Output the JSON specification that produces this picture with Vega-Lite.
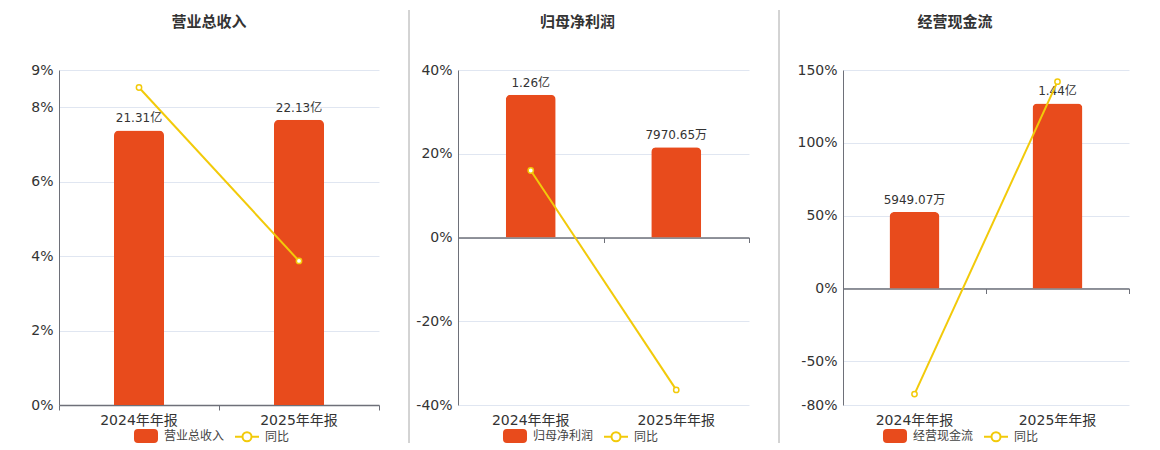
{
  "$schema": "https://vega.github.io/schema/vega-lite/v6.json",
  "padding": {"left": 30, "top": 9, "right": 0, "bottom": 0},
  "background": "white",
  "spacing": 0,
  "bounds": "flush",
  "config": {
    "view": {"stroke": null},
    "font": "DejaVu Sans, Noto Sans CJK SC",
    "title": {"font": "Noto Sans CJK SC", "fontSize": 15, "fontWeight": "bold", "color": "#333333", "offset": 33},
    "legend": {"labelFont": "Noto Sans CJK SC", "labelFontSize": 12, "labelColor": "#444444"}
  },
  "resolve": {"scale": {"color": "independent"}, "legend": {"color": "independent"}},
  "hconcat": [
    {
      "width": 320, "height": 335,
      "title": {"text": "营业总收入", "dx": -10},
      "data": {"values": [
        {"period": "2024年年报", "value": 21.31, "label": "21.31亿", "yoy": 8.53},
        {"period": "2025年年报", "value": 22.13, "label": "22.13亿", "yoy": 3.87}
      ]},
      "layer": [
        {
          "layer": [
            {
              "mark": {"type": "bar", "size": 50, "cornerRadiusTopLeft": 5, "cornerRadiusTopRight": 5},
              "encoding": {
                "x": {"field": "period", "type": "nominal", "sort": null, "scale": {"paddingInner": 0, "paddingOuter": 0},
                  "axis": {"title": null, "labelAngle": 0, "domain": false, "ticks": false, "grid": false, "labelPadding": 8, "labelFontSize": 14, "labelColor": "#333333"}},
                "y": {"field": "value", "type": "quantitative", "scale": {"domain": [0, 26], "nice": false, "zero": false}, "axis": null},
                "color": {"datum": "营业总收入", "scale": {"domain": ["营业总收入", "同比"], "range": ["#E84B1C", "#F2CA0A"]},
                  "legend": {"orient": "none", "legendX": 74, "legendY": 353, "direction": "horizontal", "title": null, "labelOffset": 5, "columnPadding": 6,
                    "encode": {"symbols": {"update": {
                      "shape": {"signal": "datum.value === '同比' ? 'M-1,0H-0.375M0.375,0H1M0.375,0A0.375,0.375,0,1,1,-0.375,0A0.375,0.375,0,1,1,0.375,0A0.375,0.375,0,1,0,-0.375,0A0.375,0.375,0,1,0,0.375,0' : 'M-0.67,-0.5H0.67A0.25,0.25,0,0,1,0.917,-0.25V0.25A0.25,0.25,0,0,1,0.67,0.5H-0.67A0.25,0.25,0,0,1,-0.917,0.25V-0.25A0.25,0.25,0,0,1,-0.67,-0.5Z'"},
                      "fill": {"signal": "datum.value === '同比' ? '#ffffff' : '#E84B1C'"},
                      "stroke": {"signal": "datum.value === '同比' ? '#F2CA0A' : '#E84B1C'"},
                      "size": {"value": 576},
                      "strokeWidth": {"value": 2},
                      "opacity": {"value": 1}, "fillOpacity": {"value": 1}, "strokeOpacity": {"value": 1}
                    }}}}}
              }
            },
            {
              "mark": {"type": "text", "baseline": "bottom", "dy": -5, "fontSize": 12, "color": "#333333"},
              "encoding": {
                "x": {"field": "period", "type": "nominal", "sort": null},
                "y": {"field": "value", "type": "quantitative"},
                "text": {"field": "label"}
              }
            }
          ]
        },
        {
          "mark": {"type": "line", "strokeWidth": 2, "point": {"filled": false, "fill": "white", "size": 28, "strokeWidth": 1.5}},
          "encoding": {
            "x": {"field": "period", "type": "nominal", "sort": null,
              "axis": {"orient": "bottom", "title": null, "labels": false, "domain": true, "ticks": true, "tickBand": "extent", "tickSize": 5, "offset": 0, "grid": false, "domainColor": "#6E7079", "tickColor": "#6E7079", "domainWidth": 1.5}},
            "y": {"field": "yoy", "type": "quantitative", "scale": {"domain": [0, 9], "nice": false, "zero": false},
              "axis": {"orient": "left", "title": null, "values": [0, 2, 4, 6, 8, 9], "labelExpr": "datum.value + '%'", "ticks": false, "labelPadding": 6, "labelFontSize": 14, "labelColor": "#333333", "domain": true, "domainColor": "#6E7079", "grid": true, "gridColor": "#E0E6F1"}},
            "color": {"datum": "同比"}
          }
        }
      ],
      "resolve": {"scale": {"y": "independent"}, "axis": {"x": "independent", "y": "independent"}}
    },
    {
      "width": 79, "height": 335,
      "data": {"values": [{"k": 1}]},
      "mark": {"type": "rule", "color": "#A8A8A8", "strokeWidth": 1, "clip": false},
      "encoding": {
        "x": {"datum": 30, "type": "quantitative", "scale": {"domain": [0, 79], "nice": false, "zero": false}, "axis": null},
        "y": {"datum": 395, "type": "quantitative", "scale": {"domain": [0, 335], "nice": false, "zero": false}, "axis": null},
        "y2": {"datum": -38}
      }
    },
    {
      "width": 291, "height": 335,
      "title": {"text": "归母净利润", "dx": -26},
      "data": {"values": [
        {"period": "2024年年报", "value": 1.26, "label": "1.26亿", "yoy": 16.0},
        {"period": "2025年年报", "value": 0.797065, "label": "7970.65万", "yoy": -36.4}
      ]},
      "layer": [
        {
          "layer": [
            {
              "mark": {"type": "bar", "size": 50, "cornerRadiusTopLeft": 5, "cornerRadiusTopRight": 5},
              "encoding": {
                "x": {"field": "period", "type": "nominal", "sort": null, "scale": {"paddingInner": 0, "paddingOuter": 0},
                  "axis": {"title": null, "labelAngle": 0, "domain": false, "ticks": false, "grid": false, "labelPadding": 8, "labelFontSize": 14, "labelColor": "#333333"}},
                "y": {"field": "value", "type": "quantitative", "scale": {"domain": [-1.478, 1.478], "nice": false, "zero": false}, "axis": null},
                "color": {"datum": "归母净利润", "scale": {"domain": ["归母净利润", "同比"], "range": ["#E84B1C", "#F2CA0A"]},
                  "legend": {"orient": "none", "legendX": 44, "legendY": 353, "direction": "horizontal", "title": null, "labelOffset": 5, "columnPadding": 6,
                    "encode": {"symbols": {"update": {
                      "shape": {"signal": "datum.value === '同比' ? 'M-1,0H-0.375M0.375,0H1M0.375,0A0.375,0.375,0,1,1,-0.375,0A0.375,0.375,0,1,1,0.375,0A0.375,0.375,0,1,0,-0.375,0A0.375,0.375,0,1,0,0.375,0' : 'M-0.67,-0.5H0.67A0.25,0.25,0,0,1,0.917,-0.25V0.25A0.25,0.25,0,0,1,0.67,0.5H-0.67A0.25,0.25,0,0,1,-0.917,0.25V-0.25A0.25,0.25,0,0,1,-0.67,-0.5Z'"},
                      "fill": {"signal": "datum.value === '同比' ? '#ffffff' : '#E84B1C'"},
                      "stroke": {"signal": "datum.value === '同比' ? '#F2CA0A' : '#E84B1C'"},
                      "size": {"value": 576},
                      "strokeWidth": {"value": 2},
                      "opacity": {"value": 1}, "fillOpacity": {"value": 1}, "strokeOpacity": {"value": 1}
                    }}}}}
              }
            },
            {
              "mark": {"type": "text", "baseline": "bottom", "dy": -5, "fontSize": 12, "color": "#333333"},
              "encoding": {
                "x": {"field": "period", "type": "nominal", "sort": null},
                "y": {"field": "value", "type": "quantitative"},
                "text": {"field": "label"}
              }
            }
          ]
        },
        {
          "mark": {"type": "line", "strokeWidth": 2, "point": {"filled": false, "fill": "white", "size": 28, "strokeWidth": 1.5}},
          "encoding": {
            "x": {"field": "period", "type": "nominal", "sort": null,
              "axis": {"orient": "bottom", "title": null, "labels": false, "domain": true, "ticks": true, "tickBand": "extent", "tickSize": 5, "offset": -167.5, "grid": false, "domainColor": "#6E7079", "tickColor": "#6E7079", "domainWidth": 1.5}},
            "y": {"field": "yoy", "type": "quantitative", "scale": {"domain": [-40, 40], "nice": false, "zero": false},
              "axis": {"orient": "left", "title": null, "values": [-40, -20, 0, 20, 40], "labelExpr": "datum.value + '%'", "ticks": false, "labelPadding": 6, "labelFontSize": 14, "labelColor": "#333333", "domain": true, "domainColor": "#6E7079", "grid": true, "gridColor": "#E0E6F1"}},
            "color": {"datum": "同比"}
          }
        }
      ],
      "resolve": {"scale": {"y": "independent"}, "axis": {"x": "independent", "y": "independent"}}
    },
    {
      "width": 94, "height": 335,
      "data": {"values": [{"k": 1}]},
      "mark": {"type": "rule", "color": "#A8A8A8", "strokeWidth": 1, "clip": false},
      "encoding": {
        "x": {"datum": 30, "type": "quantitative", "scale": {"domain": [0, 94], "nice": false, "zero": false}, "axis": null},
        "y": {"datum": 395, "type": "quantitative", "scale": {"domain": [0, 335], "nice": false, "zero": false}, "axis": null},
        "y2": {"datum": -38}
      }
    },
    {
      "width": 286, "height": 335,
      "title": {"text": "经营现金流", "dx": -31},
      "data": {"values": [
        {"period": "2024年年报", "value": 0.594907, "label": "5949.07万", "yoy": -72.5},
        {"period": "2025年年报", "value": 1.44, "label": "1.44亿", "yoy": 142}
      ]},
      "layer": [
        {
          "layer": [
            {
              "mark": {"type": "bar", "size": 50, "cornerRadiusTopLeft": 5, "cornerRadiusTopRight": 5},
              "encoding": {
                "x": {"field": "period", "type": "nominal", "sort": null, "scale": {"paddingInner": 0, "paddingOuter": 0},
                  "axis": {"title": null, "labelAngle": 0, "domain": false, "ticks": false, "grid": false, "labelPadding": 8, "labelFontSize": 14, "labelColor": "#333333"}},
                "y": {"field": "value", "type": "quantitative", "scale": {"domain": [-0.907, 1.70], "nice": false, "zero": false}, "axis": null},
                "color": {"datum": "经营现金流", "scale": {"domain": ["经营现金流", "同比"], "range": ["#E84B1C", "#F2CA0A"]},
                  "legend": {"orient": "none", "legendX": 39, "legendY": 353, "direction": "horizontal", "title": null, "labelOffset": 5, "columnPadding": 6,
                    "encode": {"symbols": {"update": {
                      "shape": {"signal": "datum.value === '同比' ? 'M-1,0H-0.375M0.375,0H1M0.375,0A0.375,0.375,0,1,1,-0.375,0A0.375,0.375,0,1,1,0.375,0A0.375,0.375,0,1,0,-0.375,0A0.375,0.375,0,1,0,0.375,0' : 'M-0.67,-0.5H0.67A0.25,0.25,0,0,1,0.917,-0.25V0.25A0.25,0.25,0,0,1,0.67,0.5H-0.67A0.25,0.25,0,0,1,-0.917,0.25V-0.25A0.25,0.25,0,0,1,-0.67,-0.5Z'"},
                      "fill": {"signal": "datum.value === '同比' ? '#ffffff' : '#E84B1C'"},
                      "stroke": {"signal": "datum.value === '同比' ? '#F2CA0A' : '#E84B1C'"},
                      "size": {"value": 576},
                      "strokeWidth": {"value": 2},
                      "opacity": {"value": 1}, "fillOpacity": {"value": 1}, "strokeOpacity": {"value": 1}
                    }}}}}
              }
            },
            {
              "mark": {"type": "text", "baseline": "bottom", "dy": -5, "fontSize": 12, "color": "#333333"},
              "encoding": {
                "x": {"field": "period", "type": "nominal", "sort": null},
                "y": {"field": "value", "type": "quantitative"},
                "text": {"field": "label"}
              }
            }
          ]
        },
        {
          "mark": {"type": "line", "strokeWidth": 2, "point": {"filled": false, "fill": "white", "size": 28, "strokeWidth": 1.5}},
          "encoding": {
            "x": {"field": "period", "type": "nominal", "sort": null,
              "axis": {"orient": "bottom", "title": null, "labels": false, "domain": true, "ticks": true, "tickBand": "extent", "tickSize": 5, "offset": -116.5, "grid": false, "domainColor": "#6E7079", "tickColor": "#6E7079", "domainWidth": 1.5}},
            "y": {"field": "yoy", "type": "quantitative", "scale": {"domain": [-80, 150], "nice": false, "zero": false},
              "axis": {"orient": "left", "title": null, "values": [-80, -50, 0, 50, 100, 150], "labelExpr": "datum.value + '%'", "ticks": false, "labelPadding": 6, "labelFontSize": 14, "labelColor": "#333333", "domain": true, "domainColor": "#6E7079", "grid": true, "gridColor": "#E0E6F1"}},
            "color": {"datum": "同比"}
          }
        }
      ],
      "resolve": {"scale": {"y": "independent"}, "axis": {"x": "independent", "y": "independent"}}
    }
  ]
}
